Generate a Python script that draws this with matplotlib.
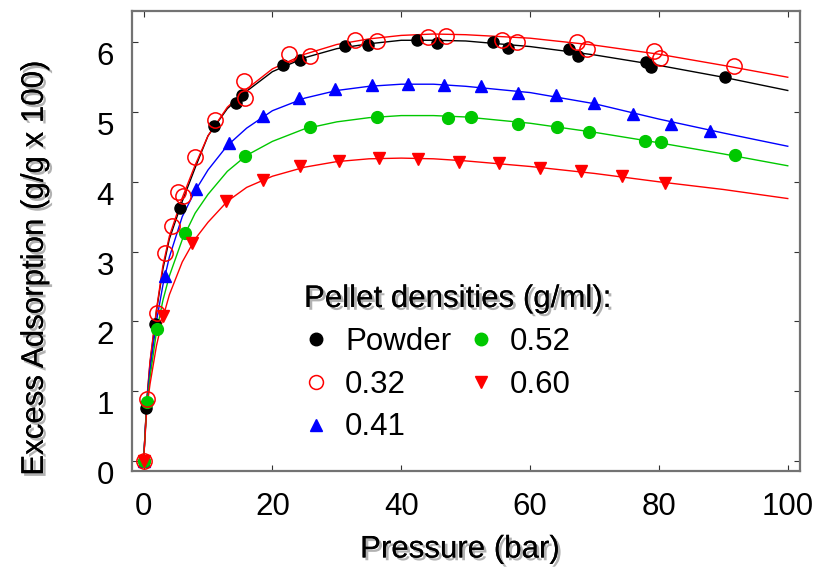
import matplotlib
matplotlib.use("Agg")
import matplotlib.pyplot as plt
from matplotlib import font_manager
from matplotlib.lines import Line2D
import matplotlib.patheffects as pe

# ---- measured excess adsorption (g/g x 100) versus pressure (bar) ----
p_powder = [0, 0.4, 1.7, 5.6, 10.9, 14.4, 15.3, 21.6, 24.3, 31.3, 34.8, 42.5, 45.5,
            54.2, 56.5, 66.0, 67.5, 78.0, 78.8, 90.3]
n_powder = [0, 0.76, 1.96, 3.62, 4.80, 5.13, 5.25, 5.67, 5.74, 5.95, 5.96, 6.04, 5.99,
            6.00, 5.92, 5.90, 5.80, 5.72, 5.65, 5.50]

p_032 = [0, 0.5, 2.1, 3.4, 4.38, 5.36, 6.13, 8.0, 11.1, 15.6, 15.8, 22.6, 25.9, 32.8,
         36.3, 44.2, 47.0, 55.6, 57.9, 67.3, 68.9, 79.3, 80.1, 91.6]
n_032 = [0, 0.89, 2.12, 2.98, 3.37, 3.85, 3.79, 4.35, 4.88, 5.44, 5.20, 5.83, 5.81, 6.04,
         6.02, 6.08, 6.09, 6.04, 6.01, 6.00, 5.90, 5.87, 5.77, 5.66]

p_041 = [0, 3.36, 8.1, 13.2, 18.6, 24.1, 29.7, 35.4, 41.0, 46.7, 52.4, 58.2, 64.0,
         69.9, 75.9, 81.9, 88.0]
n_041 = [0, 2.65, 3.89, 4.56, 4.95, 5.20, 5.33, 5.39, 5.40, 5.39, 5.38, 5.28, 5.25,
         5.13, 4.97, 4.83, 4.73]

p_052 = [0, 0.5, 2.06, 6.4, 15.7, 25.9, 36.3, 47.2, 50.8, 58.1, 64.2, 69.1, 77.9, 80.3, 91.8]
n_052 = [0, 0.84, 1.89, 3.26, 4.37, 4.79, 4.93, 4.91, 4.93, 4.83, 4.79, 4.71, 4.59, 4.57, 4.38]

p_060 = [0, 3.0, 7.5, 12.8, 18.5, 24.3, 30.3, 36.5, 42.6, 49.0, 55.2, 61.5, 67.9, 74.3, 80.9]
n_060 = [0, 2.07, 3.12, 3.72, 4.03, 4.22, 4.30, 4.34, 4.33, 4.28, 4.27, 4.20, 4.15, 4.09, 3.99]

# ---- fitted isotherm curves, sampled on a common pressure grid ----
fit_p = [0, 0.5, 1, 2, 3, 4, 6, 8, 10, 13, 16, 20, 25, 30, 35, 40, 45, 50, 60, 70, 80, 90, 100]
fit_powder = [0, 0.85, 1.40, 2.15, 2.75, 3.18, 3.72, 4.20, 4.66, 5.05, 5.30, 5.58, 5.78,
              5.91, 5.98, 6.03, 6.03, 6.02, 5.94, 5.82, 5.67, 5.50, 5.31]
fit_032 = [0, 0.88, 1.43, 2.17, 2.80, 3.22, 3.77, 4.24, 4.66, 5.07, 5.33, 5.62, 5.83,
           5.97, 6.05, 6.10, 6.12, 6.11, 6.06, 5.96, 5.83, 5.67, 5.50]
fit_041 = [0, 0.85, 1.30, 2.00, 2.52, 2.92, 3.50, 3.87, 4.17, 4.52, 4.77, 5.02, 5.20,
           5.31, 5.37, 5.40, 5.40, 5.37, 5.28, 5.12, 4.90, 4.70, 4.51]
fit_052 = [0, 0.80, 1.20, 1.85, 2.30, 2.65, 3.17, 3.55, 3.82, 4.15, 4.38, 4.58, 4.76,
           4.86, 4.92, 4.95, 4.95, 4.93, 4.84, 4.71, 4.56, 4.40, 4.23]
fit_060 = [0, 0.75, 1.10, 1.65, 2.05, 2.38, 2.85, 3.18, 3.42, 3.72, 3.92, 4.08, 4.21,
           4.29, 4.33, 4.34, 4.33, 4.30, 4.22, 4.12, 4.00, 3.89, 3.76]

x_ticks = [0, 20, 40, 60, 80, 100]
y_ticks = [0, 1, 2, 3, 4, 5, 6]
legend_labels = ["Powder", "0.32", "0.41", "0.52", "0.60"]

# ---- fonts ----
installed = {f.name for f in font_manager.fontManager.ttflist}
if "Liberation Sans Narrow" in installed:
    family, fsize = "Liberation Sans Narrow", 26.5
else:
    family, fsize = "Liberation Sans", 22.5
plt.rcParams["font.family"] = [family, "DejaVu Sans"]
plt.rcParams["font.size"] = fsize

BLACK, RED, BLUE, GREEN = "#000000", "#ff0000", "#0000ff", "#00c800"
shadow = [pe.withSimplePatchShadow(offset=(2, -2), shadow_rgbFace="#555555", alpha=0.45),
          pe.Normal()]

fig = plt.figure(figsize=(8.17, 5.70), dpi=100)
ax = fig.add_axes([132 / 817, 1 - 471 / 570, 668 / 817, 460 / 570])

# fitted curves
ax.plot(fit_p, fit_powder, color=BLACK, lw=1.0, zorder=2)
ax.plot(fit_p, fit_032, color=RED, lw=1.0, zorder=2)
ax.plot(fit_p, fit_041, color=BLUE, lw=1.0, zorder=2)
ax.plot(fit_p, fit_052, color=GREEN, lw=1.0, zorder=2)
ax.plot(fit_p, fit_060, color=RED, lw=1.0, zorder=2)

# measured points
ax.plot(p_powder, n_powder, "o", color=BLACK, ms=8, mec=BLACK, zorder=3)
ax.plot(p_032, n_032, "o", mfc="none", mec=RED, mew=1.1, ms=11, zorder=4)
ax.plot(p_041, n_041, "^", color=BLUE, ms=9, zorder=3)
ax.plot(p_052, n_052, "o", color=GREEN, ms=8.5, zorder=3)
ax.plot(p_060, n_060, "v", color=RED, ms=9, zorder=3)

ax.set_xlim(-1.8, 101.9)
ax.set_ylim(-0.148, 6.45)
ax.set_xticks(x_ticks)
ax.set_yticks(y_ticks)
ax.set_xticklabels([str(v) for v in x_ticks])
ax.set_yticklabels([str(v) for v in y_ticks])

for side in ax.spines.values():
    side.set_color("#737373")
    side.set_linewidth(1.6)

ax.tick_params(axis="both", which="major", direction="in", length=4.5, width=0.8,
               color="#333333", top=True, right=True, labelsize=fsize)
ax.tick_params(axis="x", pad=15)
ax.tick_params(axis="y", pad=13)
for lab in ax.get_yticklabels():
    lab.set_verticalalignment("top")

ax.set_xlabel("Pressure (bar)", fontsize=fsize, path_effects=shadow)
ax.set_ylabel("Excess Adsorption (g/g x 100)", fontsize=fsize, path_effects=shadow)
ax.xaxis.set_label_coords(0.491, -0.138)
ax.yaxis.set_label_coords(-0.123, 0.441)

# legend
handles = [
    Line2D([], [], ls="none", marker="o", color=BLACK, ms=9),
    Line2D([], [], ls="none", marker="o", mfc="none", mec=RED, mew=1.1, ms=10),
    Line2D([], [], ls="none", marker="^", color=BLUE, ms=9),
    Line2D([], [], ls="none", marker="o", color=GREEN, ms=9),
    Line2D([], [], ls="none", marker="v", color=RED, ms=9),
]
leg = ax.legend(handles, legend_labels, title="Pellet densities (g/ml):", ncol=2,
                loc="upper left", bbox_to_anchor=((304 - 132) / 668, (471 - 284) / 460),
                frameon=False, borderpad=0, borderaxespad=0, handlelength=0.77,
                handletextpad=0.54, columnspacing=0.58, labelspacing=0.41,
                fontsize=fsize, title_fontsize=fsize, alignment="left")
leg.get_title().set_path_effects(shadow)

fig.savefig("out.png", dpi=100)
